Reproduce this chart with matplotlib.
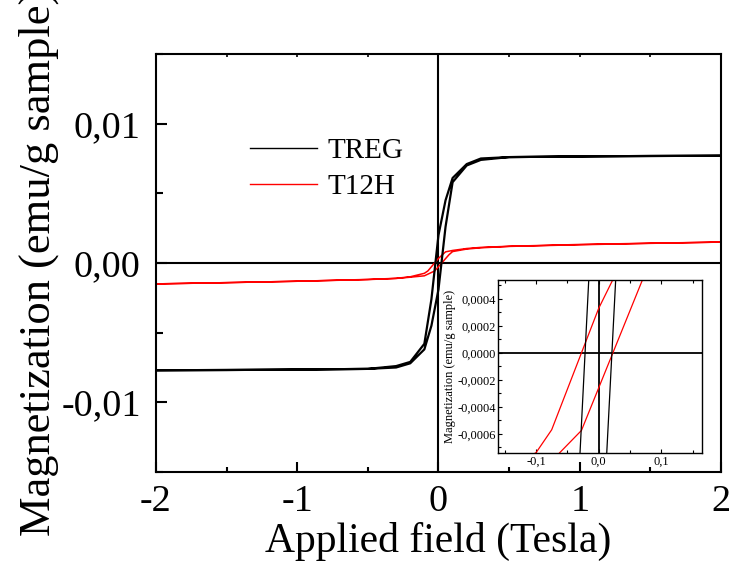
import numpy as np
import matplotlib
matplotlib.use("Agg")
import matplotlib.pyplot as plt
from matplotlib.ticker import MultipleLocator, FuncFormatter

plt.rcParams['font.family'] = ['Liberation Serif', 'DejaVu Serif']
plt.rcParams['axes.unicode_minus'] = False

# TREG loop: field going down (+2 -> -2) then back up
treg_h_down = [2.0, 1.5, 1.0, 0.5, 0.3, 0.2, 0.1, 0.05, 0.0, -0.05, -0.1, -0.2, -0.3, -0.5, -1.0, -1.5, -2.0]
treg_m_down = [0.0077, 0.00768, 0.00765, 0.0076, 0.0075, 0.0071, 0.0061, 0.0045, 0.0020, -0.0026, -0.0058,
               -0.0071, -0.0074, -0.0076, -0.00765, -0.00768, -0.0077]
treg_h_up = [-2.0, -1.5, -1.0, -0.5, -0.3, -0.2, -0.1, -0.05, 0.0, 0.05, 0.1, 0.2, 0.3, 0.5, 1.0, 1.5, 2.0]
treg_m_up = [-0.0077, -0.00768, -0.00765, -0.0076, -0.0075, -0.0072, -0.0062, -0.0045, -0.0019, 0.0026, 0.0058,
             0.0070, 0.0074, 0.0076, 0.00765, 0.00768, 0.0077]

# T12H loop
t12h_h_down = [2.0, 1.5, 1.0, 0.5, 0.3, 0.2, 0.1, 0.05, 0.0, -0.075, -0.1, -0.2, -0.3, -0.5, -1.0, -1.5, -2.0]
t12h_m_down = [0.0015, 0.00142, 0.00133, 0.00120, 0.00112, 0.00104, 0.00090, 0.00080, 0.00033, -0.00057,
               -0.00074, -0.00099, -0.00110, -0.00118, -0.00131, -0.00141, -0.0015]
t12h_h_up = [-2.0, -1.5, -1.0, -0.5, -0.3, -0.2, -0.1, -0.0275, 0.075, 0.1, 0.2, 0.3, 0.5, 1.0, 1.5, 2.0]
t12h_m_up = [-0.0015, -0.00141, -0.00131, -0.00119, -0.00111, -0.00102, -0.00092, -0.000575, 0.00060,
             0.00082, 0.00100, 0.00109, 0.00119, 0.00131, 0.00141, 0.0015]

xticks_main = [-2, -1, 0, 1, 2]
yticks_main = [-0.01, 0.0, 0.01]

treg_h = treg_h_down + treg_h_up
treg_m = treg_m_down + treg_m_up
t12h_h = t12h_h_down + t12h_h_up
t12h_m = t12h_m_down + t12h_m_up


def comma_fmt(decimals):
    def f(v, pos):
        s = ("%." + str(decimals) + "f") % v
        if s.startswith("-") and float(s) == 0:
            s = s[1:]
        return s.replace(".", ",")
    return FuncFormatter(f)


fig = plt.figure(figsize=(7.33, 5.69), dpi=100)
ax = fig.add_axes([0.2128, 0.1705, 0.7708, 0.7346])

ax.axhline(0, color='black', lw=1.5, zorder=1)
ax.axvline(0, color='black', lw=1.5, zorder=1)
ax.plot(treg_h, treg_m, color='black', lw=1.6, label='TREG', zorder=3)
ax.plot(t12h_h, t12h_m, color='red', lw=1.1, label='T12H', zorder=2)

ax.set_xlim(-2, 2)
ax.set_ylim(-0.015, 0.015)
ax.set_xticks(xticks_main)
ax.set_yticks(yticks_main)
ax.xaxis.set_minor_locator(MultipleLocator(0.5))
ax.yaxis.set_minor_locator(MultipleLocator(0.005))
ax.xaxis.set_major_formatter(comma_fmt(0))
ax.yaxis.set_major_formatter(comma_fmt(2))
ax.tick_params(axis='both', which='both', direction='in', width=1.5, labelsize=27.5)
ax.tick_params(axis='x', which='major', length=7.5, pad=9)
ax.tick_params(axis='x', which='minor', length=3.8)
ax.tick_params(axis='y', which='major', length=8, pad=11)
ax.tick_params(axis='y', which='minor', length=5)
for sp in ax.spines.values():
    sp.set_linewidth(1.5)

top = ax.secondary_xaxis('top')
top.set_xticks([-1.5, -1, -0.5, 0, 0.5, 1, 1.5])
top.tick_params(direction='in', length=2, width=1.2, labeltop=False)
top.spines['top'].set_visible(False)

ax.set_xlabel('Applied field (Tesla)', fontsize=30, labelpad=2)
ax.set_ylabel('Magnetization (emu/g sample)', fontsize=32)
ax.yaxis.set_label_coords(-0.172, 0.5)

leg = ax.legend(loc='upper left', bbox_to_anchor=(0.167, 0.80), frameon=False, fontsize=21,
                handlelength=2.3, handletextpad=0.35, labelspacing=0.32, borderpad=0, borderaxespad=0)
for ln in leg.get_lines():
    ln.set_linewidth(1.0)

# inset zoom on the origin
ins = fig.add_axes([0.680, 0.2044, 0.2778, 0.3035])
ins.axhline(0, color='black', lw=1.3, zorder=1)
ins.axvline(0, color='black', lw=1.3, zorder=1)
ins.plot(treg_h, treg_m, color='black', lw=0.9, zorder=3)
ins.plot(t12h_h, t12h_m, color='red', lw=0.9, zorder=2)
ins.set_xlim(-0.16, 0.165)
ins.set_ylim(-0.00074, 0.00054)
ins.set_xticks([-0.1, 0.0, 0.1])
ins.set_yticks([-0.0006, -0.0004, -0.0002, 0.0, 0.0002, 0.0004])
ins.xaxis.set_minor_locator(MultipleLocator(0.05))
ins.yaxis.set_minor_locator(MultipleLocator(0.0001))
ins.xaxis.set_major_formatter(comma_fmt(1))
ins.yaxis.set_major_formatter(comma_fmt(4))
ins.tick_params(axis='both', which='both', direction='in', width=0.8, labelsize=9, pad=2, top=True)
ins.tick_params(which='major', length=3)
ins.tick_params(which='minor', length=2)
for sp in ins.spines.values():
    sp.set_linewidth(1.0)
ins.set_ylabel('Magnetization (emu/g sample)', fontsize=9, labelpad=1)

fig.savefig('out.png', dpi=100)
